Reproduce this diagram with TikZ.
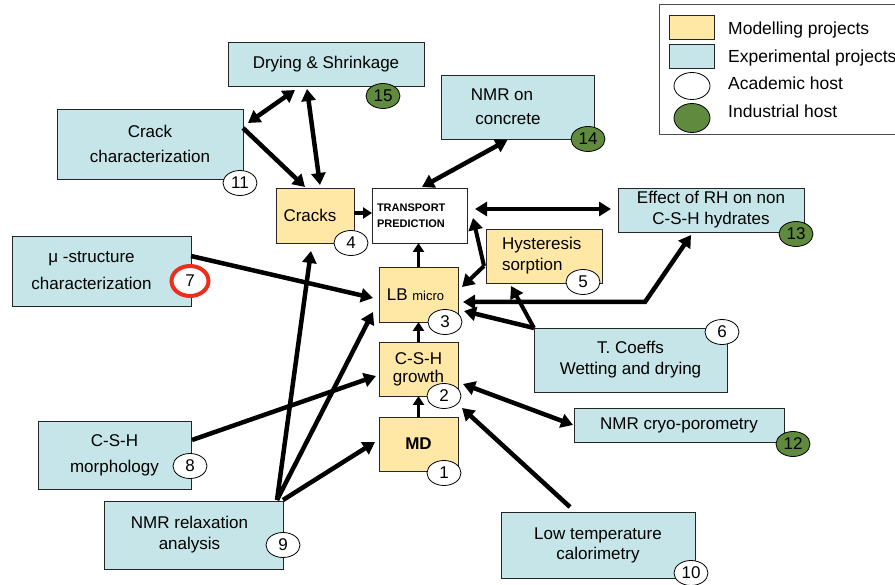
\documentclass[tikz,border=0pt]{standalone}
\usepackage{fontspec}
\setmainfont{Liberation Sans}
\usetikzlibrary{shapes.geometric,arrows.meta,calc}
\definecolor{modelfill}{RGB}{255,231,165}
\definecolor{expfill}{RGB}{197,229,232}
\definecolor{indgreen}{RGB}{96,138,62}
\definecolor{ringred}{RGB}{232,48,28}
\begin{document}
\begin{tikzpicture}[x=1pt,y=-1pt,
  box/.style={draw=black!85, line width=0.9pt, inner sep=0pt, outer sep=0pt, align=center, font=\fontsize{17}{21}\selectfont},
  model/.style={box, fill=modelfill},
  expt/.style={box, fill=expfill},
  sz/.style 2 args={minimum width=#1pt, minimum height=#2pt},
  num/.style={ellipse, draw=black, line width=0.8pt, fill=white, minimum width=34pt, minimum height=25pt, inner sep=0pt, font=\fontsize{17}{17}\selectfont},
  ind/.style={num, fill=indgreen},
  arr/.style={line width=4.5pt, -{Triangle[length=12pt,width=14pt]}},
  darr/.style={line width=4.5pt, {Triangle[length=12pt,width=14pt]}-{Triangle[length=12pt,width=14pt]}},
  sarr/.style={line width=3.5pt, -{Triangle[length=9pt,width=11pt]}},
  legtext/.style={anchor=base west, inner sep=0pt, font=\fontsize{17.5}{20}\selectfont},
]
\useasboundingbox (0,0) rectangle (895,585);
\fill[white] (0,0) rectangle (895,585);

% legend
\draw[draw=black!70, line width=1pt] (659,5) rectangle (897,135);
\node[model, sz={45}{24}] (lgm) at (691.5,27) {};
\node[expt, sz={45}{24}] (lge) at (691.5,56) {};
\node[ellipse, draw=black, line width=0.8pt, fill=white, minimum width=36pt, minimum height=27pt, inner sep=0pt] (lga) at (692,86) {};
\node[ellipse, draw=black, line width=0.8pt, fill=indgreen, minimum width=36pt, minimum height=29pt, inner sep=0pt] (lgi) at (692,118) {};
\node[legtext] (lgmt) at (728,35) {Modelling projects};
\node[legtext] (lget) at (728,63) {Experimental projects};
\node[legtext] (lgat) at (728,90) {Academic host};
\node[legtext] (lgit) at (728,118) {Industrial host};

% boxes
\node[expt, sz={196}{44}] (dry) at (326,64) {Drying \& Shrinkage};
\node[expt, sz={153}{64}] (nmrc) at (517.5,107) {NMR on\hspace*{31pt}\\[3pt]concrete\hspace*{19pt}};
\node[expt, sz={186}{70}] (crackc) at (150,144) {Crack\\[4pt]characterization};
\node[expt, sz={179}{70}] (micro) at (101.5,271) {μ -structure\hspace*{20pt}\\[6pt]characterization\hspace*{20pt}};
\node[model, sz={78}{55}] (cracks) at (315,215.5) {Cracks\hspace*{10pt}};
\node[box, fill=white, sz={95}{55}, text width=85pt, inner xsep=5pt, align=left, font=\fontsize{11}{16}\selectfont\bfseries] (trans) at (419.5,215.5) {TRANSPORT\\PREDICTION};
\node[model, sz={79}{55}] (lb) at (418.5,294.5) {LB {\fontsize{13}{15}\selectfont micro}\hspace*{6pt}};
\node[model, sz={116}{54}, text width=84pt, inner xsep=16pt, align=left] (hyst) at (544,256) {Hysteresis\\sorption};
\node[model, sz={79}{54}] (growth) at (418.5,369) {C-S-H\\[-3pt]growth};
\node[model, sz={79}{54}, font=\fontsize{17}{21}\selectfont\bfseries] (md) at (418.5,444) {MD};
\node[expt, sz={186}{44}] (effect) at (711,210) {Effect of RH on non\\C-S-H hydrates};
\node[expt, sz={193}{64}] (tcoef) at (630.5,360) {T. Coeffs\\Wetting and drying};
\node[expt, sz={210}{34}] (cryo) at (679,425) {NMR cryo-porometry};
\node[expt, sz={153}{68}] (morph) at (114.5,455) {C-S-H\\[5pt]morphology};
\node[expt, sz={179}{68}] (nmrrel) at (193.5,535) {NMR relaxation\hspace*{8pt}\\analysis\hspace*{8pt}};
\node[expt, sz={194}{66}] (lowt) at (598,545) {Low temperature\\[-1pt]calorimetry};

% connectors
\draw[darr] ($(dry.south west)+(67,4)$) -- ($(crackc.north east)+(5,14)$);
\draw[darr] ($(dry.south west)+(79,3)$) -- ($(cracks.north)+(5,-3)$);
\draw[arr] ($(crackc.north east)+(0,19)$) -- ($(cracks.north west)+(29,-1)$);
\draw[darr] ($(trans.north)+(2.5,-1)$) -- ($(nmrc.south)+(-10,1)$);
\draw[sarr] ($(cracks.east)+(0,-2.5)$) -- ($(trans.west)+(0,-2.5)$);
\draw[darr] ($(trans.east)+(8,-6.5)$) -- ($(effect.west)+(-7,-1)$);
\draw[sarr] (lb.north) -- (lb.north |- trans.south);
\coordinate (hb) at ($(hyst.west)+(-2,10)$);
\draw[arr, line width=4pt] (hb) -- ($(trans.south east)+(6,-25)$);
\draw[arr, line width=4pt] (hb) -- ($(lb.east)+(4,-7.5)$);
\draw[darr] ($(lb.east)+(5,7.5)$) -- ++(182,0) -- ($(effect.south)+(-20,3)$);
\draw[arr] (tcoef.north west) -- ($(lb.south east)+(6,-11)$);
\draw[arr, line width=4pt] (tcoef.north west) -- ($(hyst.south west)+(25,3)$);
\draw[sarr] (growth.north) -- (lb.south);
\draw[sarr] (md.north) -- (growth.south);
\draw[darr] ($(growth.south east)+(5,-12)$) -- ($(cryo.west)+(-1,0)$);
\draw[arr] ($(lowt.north west)+(69,-5)$) -- ($(growth.south east)+(4,12)$);
\draw[arr] ($(morph.north east)+(1,19)$) -- ($(growth.west)+(-3,7)$);
\draw[arr] ($(nmrrel.north east)+(0,-1)$) -- ($(md.west)+(-4,-2)$);
\draw[arr] ($(nmrrel.north east)+(-6,-1)$) -- ($(lb.west)+(-6,17.5)$);
\draw[arr] ($(nmrrel.north east)+(-6,-1)$) -- ($(cracks.south)+(-4,8)$);
\draw[arr] ($(micro.north east)+(0,20)$) -- ($(lb.west)+(-6,3.5)$);

% host markers
\node[num] (c1) at (444,473) {1};
\node[num] (c2) at (444,396) {2};
\node[num] (c3) at (445,322) {3};
\node[num] (c4) at (351,243) {4};
\node[num] (c5) at (583,282) {5};
\node[num] (c6) at (722,332) {6};
\node[num, draw=ringred, line width=4pt, minimum width=37pt, minimum height=30pt] (c7) at (190,281) {7};
\node[num] (c8) at (190,466) {8};
\node[num] (c9) at (283,545) {9};
\node[num] (c10) at (691,573) {10};
\node[num] (c11) at (240,183) {11};
\node[ind] (c12) at (793,444) {12};
\node[ind] (c13) at (796,234) {13};
\node[ind] (c14) at (588,139) {14};
\node[ind] (c15) at (383,96) {15};
\end{tikzpicture}
\end{document}
